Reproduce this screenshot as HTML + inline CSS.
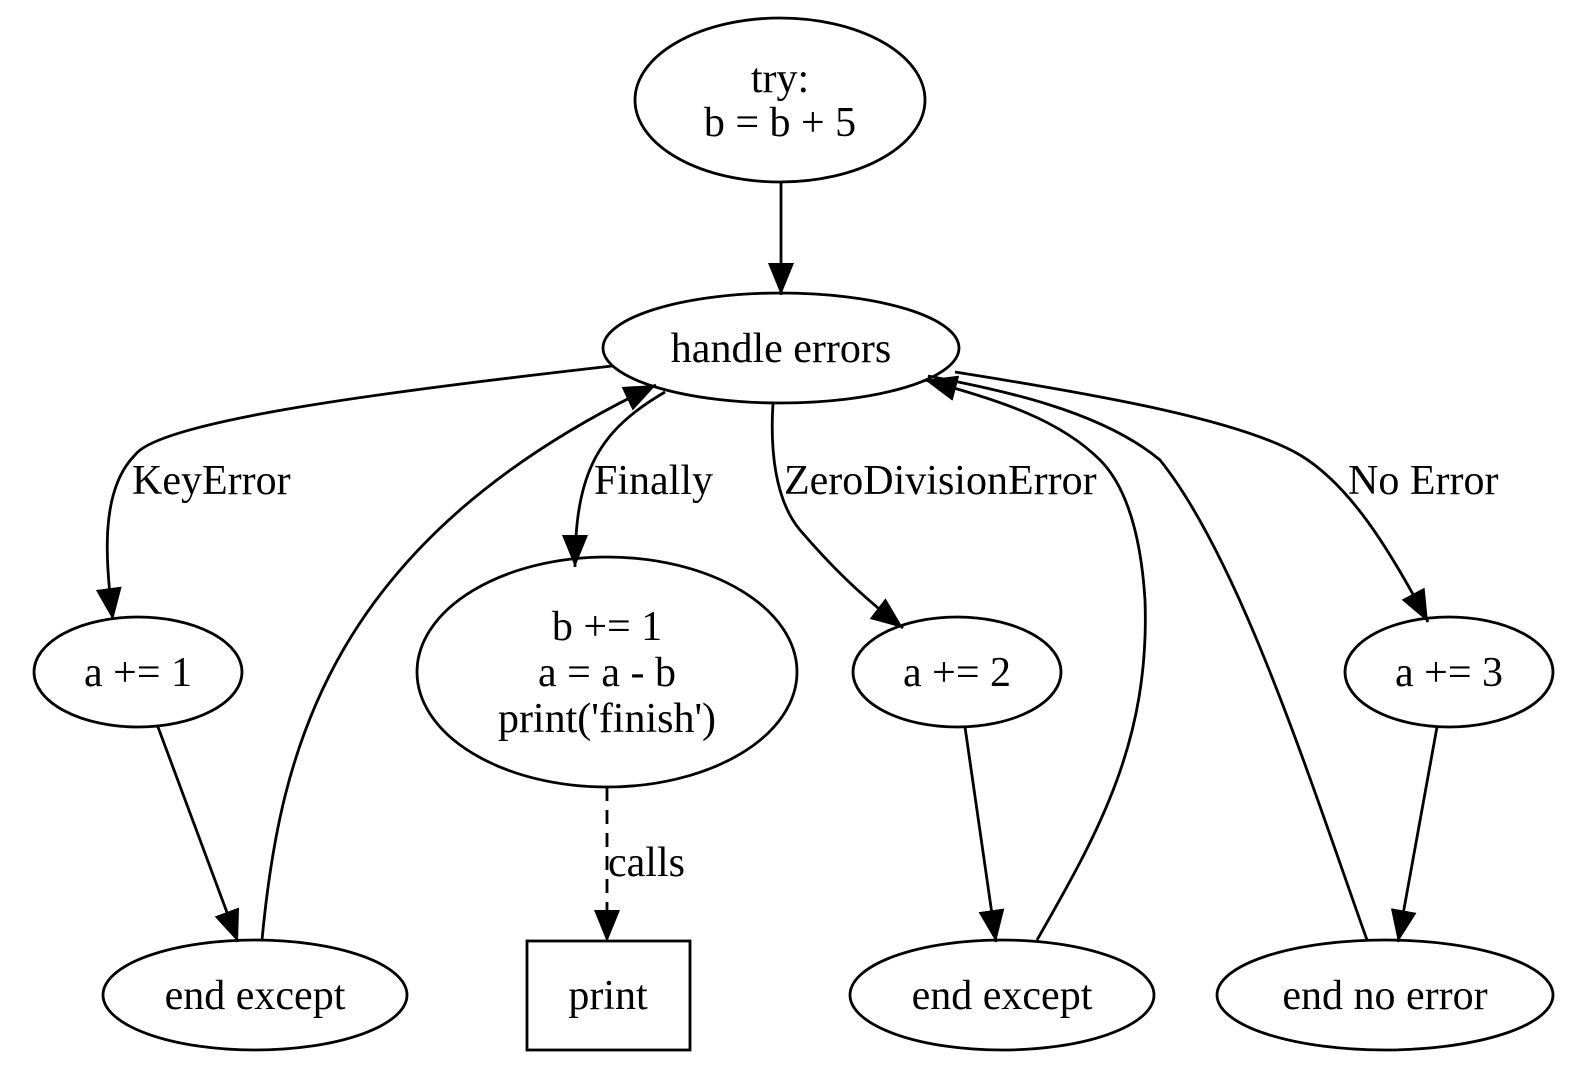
<!DOCTYPE html>
<html><head><meta charset="utf-8"><style>
html,body{margin:0;padding:0;background:#fff;}
svg{display:block;}
text{font-family:"Liberation Serif",serif;font-size:42px;fill:#000;}
</style></head><body>
<svg width="1586" height="1072" viewBox="0 0 1586 1072" xmlns="http://www.w3.org/2000/svg">
<defs>
<marker id="a" markerUnits="userSpaceOnUse" markerWidth="34" markerHeight="28" refX="32" refY="13" orient="auto">
<path d="M0,0 L32,13 L0,26 Z" fill="#000"/>
</marker>
</defs>
<g fill="none" stroke="#000" stroke-width="2.8">
<ellipse cx="780" cy="100" rx="145" ry="82"/>
<ellipse cx="781" cy="348" rx="178" ry="55"/>
<ellipse cx="138" cy="672" rx="104" ry="55"/>
<ellipse cx="607" cy="672" rx="190" ry="115"/>
<ellipse cx="957" cy="672" rx="104" ry="55"/>
<ellipse cx="1449" cy="672" rx="104" ry="55"/>
<ellipse cx="255" cy="995" rx="152" ry="55"/>
<rect x="527" y="941" width="163" height="109"/>
<ellipse cx="1002" cy="995" rx="152" ry="55"/>
<ellipse cx="1385" cy="995" rx="168" ry="55"/>

<path d="M781,182 L781,295" marker-end="url(#a)"/>
<path d="M612,366 C400,390 160,420 135,455 C100,490 105,560 113,620" marker-end="url(#a)"/>
<path d="M262,940 C280,750 330,540 656,385" marker-end="url(#a)"/>
<path d="M665,392 C600,430 575,470 575,567" marker-end="url(#a)"/>
<path d="M773,403 C770,450 775,500 800,530 C830,565 860,595 903,628" marker-end="url(#a)"/>
<path d="M1037,940 C1100,830 1150,740 1145,600 C1140,520 1120,480 1100,460 C1060,420 1000,400 925,380" marker-end="url(#a)"/>
<path d="M1367,940 C1310,780 1240,560 1160,460 C1100,410 1000,390 928,376"/>
<path d="M955,372 C1100,395 1240,420 1300,455 C1350,485 1390,550 1428,622" marker-end="url(#a)"/>
<path d="M158,727 L238,942" marker-end="url(#a)"/>
<path d="M965,727 L996,942" marker-end="url(#a)"/>
<path d="M1437,727 L1398,942" marker-end="url(#a)"/>
<path d="M607,787 L607,942" stroke-dasharray="14,9" marker-end="url(#a)"/>
</g>
<g text-anchor="middle">
<text x="780" y="92">try:</text>
<text x="780" y="136">b = b + 5</text>
<text x="781" y="362">handle errors</text>
<text x="138" y="686">a += 1</text>
<text x="607" y="640">b += 1</text>
<text x="607" y="686">a = a - b</text>
<text x="607" y="732">print('finish')</text>
<text x="957" y="686">a += 2</text>
<text x="1449" y="686">a += 3</text>
<text x="255" y="1009">end except</text>
<text x="608" y="1009">print</text>
<text x="1002" y="1009">end except</text>
<text x="1385" y="1009">end no error</text>
</g>
<g>
<text x="132" y="494">KeyError</text>
<text x="594" y="494">Finally</text>
<text x="784" y="494">ZeroDivisionError</text>
<text x="1348" y="494">No Error</text>
<text x="608" y="876">calls</text>
</g>
</svg>
</body></html>
